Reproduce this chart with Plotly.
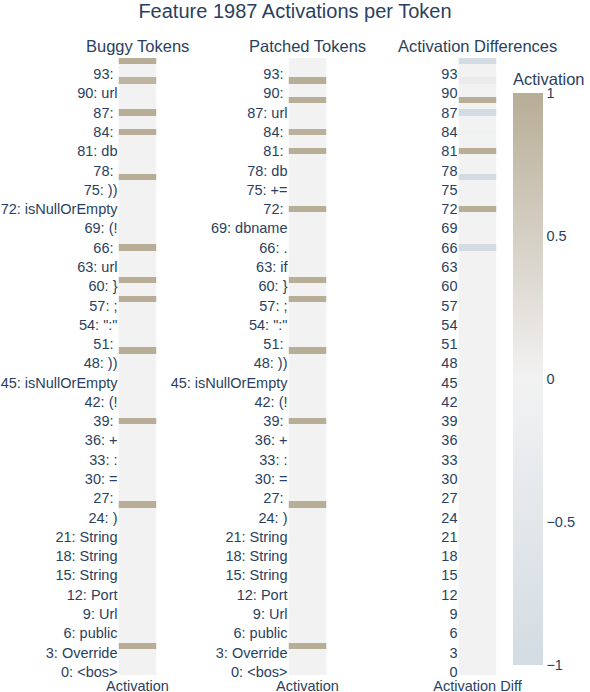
import numpy as np
import plotly.graph_objects as go

n_tokens = 96
tick_pos = list(range(0, 94, 3))

buggy_tokens = ["<bos>", "Override", "public", "Url", "Port", "String", "String", "String",
                ")", "", "=", ":", "+", "", "(!", "isNullOrEmpty", "))", "", "\":\"", ";",
                "}", "url", "", "(!", "isNullOrEmpty", "))", "", "db", "", "", "url", ""]
patched_tokens = ["<bos>", "Override", "public", "Url", "Port", "String", "String", "String",
                  ")", "", "=", ":", "+", "", "(!", "isNullOrEmpty", "))", "", "\":\"", ";",
                  "}", "if", ".", "dbname", "", "+=", "db", "", "", "url", "", ""]

# token positions with non-zero activation, and their values
buggy_idx = [4, 26, 39, 50, 58, 61, 66, 77, 84, 87, 92, 95]
buggy_val = [1.0, 1.0, 1.0, 1.0, 1.0, 1.0, 1.0, 1.0, 1.0, 1.0, 0.9, 1.0]
patched_idx = [4, 26, 39, 50, 58, 61, 72, 81, 84, 89, 92]
patched_val = [1.0, 1.0, 1.0, 1.0, 1.0, 1.0, 1.0, 1.0, 0.95, 1.0, 1.0]

buggy = np.zeros(n_tokens)
buggy[buggy_idx] = buggy_val
patched = np.zeros(n_tokens)
patched[patched_idx] = patched_val
diff = patched - buggy

colors = [[0, "#d3dce3"], [0.5, "#f2f2f2"], [1, "#b8ad96"]]
title_col = "#2a3f5f"

fig = go.Figure()
fig.add_trace(go.Heatmap(z=buggy.reshape(-1, 1), x=["Activation"], y=list(range(n_tokens)),
                         coloraxis="coloraxis", xaxis="x", yaxis="y"))
fig.add_trace(go.Heatmap(z=patched.reshape(-1, 1), x=["Activation"], y=list(range(n_tokens)),
                         coloraxis="coloraxis", xaxis="x2", yaxis="y2"))
fig.add_trace(go.Heatmap(z=diff.reshape(-1, 1), x=["Activation Diff"], y=list(range(n_tokens)),
                         coloraxis="coloraxis", xaxis="x3", yaxis="y3"))

W = 590.0
doms = [[118.5 / W, 156.5 / W], [288.5 / W, 326.5 / W], [458.5 / W, 496.5 / W]]
ax_style = dict(showgrid=False, zeroline=False, automargin=False, showline=False)

fig.update_layout(
    width=590, height=692,
    margin=dict(l=0, r=0, t=58, b=17),
    plot_bgcolor="white", paper_bgcolor="white",
    font=dict(family="Arial, 'Liberation Sans', sans-serif", size=14.5, color=title_col),
    title=dict(text="Feature 1987 Activations per Token", x=0.5, xanchor="center",
               y=1 - 11 / 692, yanchor="middle", yref="container", font=dict(size=20)),
    coloraxis=dict(colorscale=colors, cmin=-1, cmax=1,
                   colorbar=dict(title=dict(text="Activation", side="top", font=dict(size=16.5)),
                                 thickness=30, len=595 / 617, lenmode="fraction",
                                 x=513 / W, xanchor="left", xpad=0,
                                 y=(675 - 665) / 617, yanchor="bottom", ypad=0,
                                 outlinewidth=0, tickvals=[-1, -0.5, 0, 0.5, 1],
                                 tickfont=dict(size=14.5))),
    xaxis=dict(domain=doms[0], anchor="y", **ax_style),
    xaxis2=dict(domain=doms[1], anchor="y2", **ax_style),
    xaxis3=dict(domain=doms[2], anchor="y3", **ax_style),
    yaxis=dict(anchor="x", tickvals=tick_pos,
               ticktext=[f"{p}: {t}" for p, t in zip(tick_pos, buggy_tokens)],
               range=[-0.5, n_tokens - 0.5], **ax_style),
    yaxis2=dict(anchor="x2", tickvals=tick_pos,
                ticktext=[f"{p}: {t}" for p, t in zip(tick_pos, patched_tokens)],
                range=[-0.5, n_tokens - 0.5], **ax_style),
    yaxis3=dict(anchor="x3", tickvals=tick_pos, ticktext=[str(p) for p in tick_pos],
                range=[-0.5, n_tokens - 0.5], **ax_style),
)

sub_titles = ["Buggy Tokens", "Patched Tokens", "Activation Differences"]
for d, t in zip(doms, sub_titles):
    fig.add_annotation(text=t, x=(d[0] + d[1]) / 2, y=1, xref="paper", yref="paper",
                       xanchor="center", yanchor="bottom", showarrow=False, yshift=1,
                       font=dict(size=16.5, color=title_col))

# page body margin would push the fixed-size figure off the window
fig.write_html("out.html", config={"displayModeBar": False},
               post_script="document.body.style.margin='0px';")
